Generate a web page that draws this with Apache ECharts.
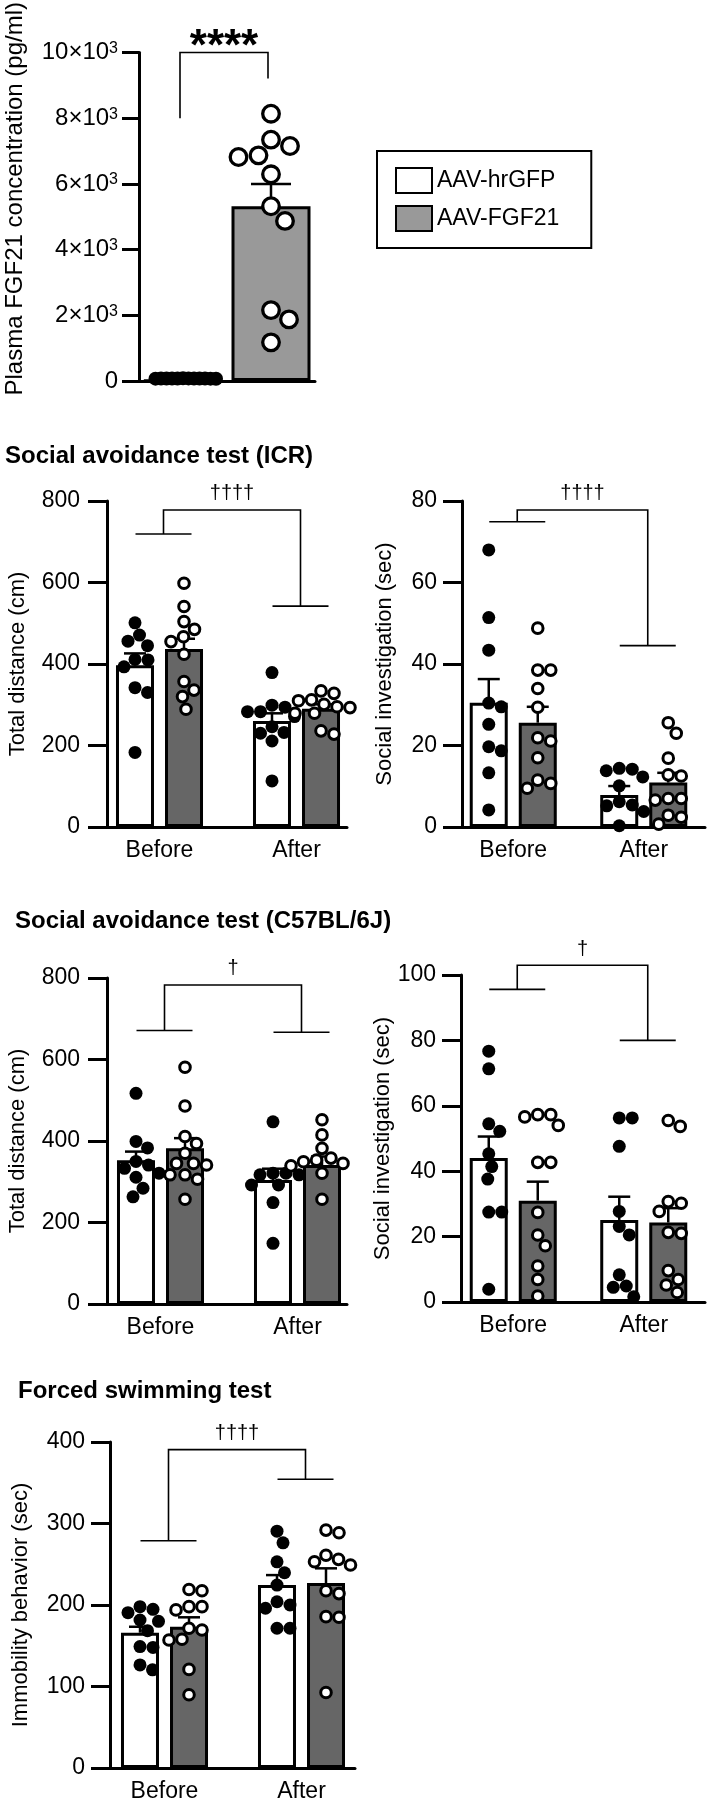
<!DOCTYPE html>
<html><head><meta charset="utf-8">
<script src="https://cdn.jsdelivr.net/npm/echarts@6/dist/echarts.min.js"></script>
<style>html,body{margin:0;padding:0;background:#fff}#c{width:709px;height:1806px}</style>
</head><body><div id="c"></div>
<script>
// ---------------- DATA ----------------
const PHASES = ['Before', 'After'];
const GROUPS = ['AAV-hrGFP', 'AAV-FGF21'];

// Panel 1: Plasma FGF21 concentration (pg/ml)
const fgfMean = [20, 5319];
const fgfSem = [5, 680];
const fgfHrGFP = [78, 72, 75, 70, 80, 74, 76, 71, 79, 73, 77, 74];
const fgfFGF21 = [8137, 7346, 7153, 6869, 6818, 6292, 5319, 4873, 2158, 1875, 1176];
const fgfTicks = [0, 2000, 4000, 6000, 8000, 10000];
const fgfBracket = [8000, 10000, 9210];

// Panel 2: Social avoidance (ICR) – total distance (cm)
const icrDistMeanGFP = [397, 260], icrDistSemGFP = [29, 19];
const icrDistMeanFGF = [437, 290], icrDistSemFGF = [25, 11];
const icrDistGFPBefore = [501, 471, 456, 445, 411, 410, 393, 342, 330, 183];
const icrDistGFPAfter = [379, 299, 294, 283, 283, 271, 246, 232, 230, 211, 113];
const icrDistFGFBefore = [598, 541, 504, 485, 467, 455, 424, 357, 336, 320, 289];
const icrDistFGFAfter = [334, 328, 312, 310, 301, 295, 293, 279, 279, 236, 228];
const icrDistTicks = [0, 200, 400, 600, 800];
const icrDistBracket = [719, 778, 542];

// Panel 3: Social avoidance (ICR) – social investigation (sec)
const icrSocMeanGFP = [30.5, 7.85], icrSocSemGFP = [5.8, 2.2];
const icrSocMeanFGF = [25.6, 10.9], icrSocSemFGF = [3.9, 2.4];
const icrSocGFPBefore = [68, 51.4, 43.4, 30.4, 29.5, 25.2, 19.7, 18.7, 13.3, 4.2];
const icrSocGFPAfter = [14.4, 14.2, 13.8, 12.3, 10.1, 6.2, 5.4, 5.2, 3.8, 0.3];
const icrSocFGFBefore = [48.8, 38.5, 38.5, 34, 29.4, 21.9, 21.1, 17, 11.5, 10.7, 9.5];
const icrSocFGFAfter = [25.6, 23, 16.9, 12.8, 12.5, 7, 7, 6.6, 2.9, 2.4, 0.7];
const icrSocTicks = [0, 20, 40, 60, 80];
const icrSocBracket = [74.9, 77.8, 44.5];

// Panel 4: Social avoidance (C57BL/6J) – total distance (cm)
const c57DistMeanGFP = [353, 304], c57DistSemGFP = [21, 28];
const c57DistMeanFGF = [382, 341], c57DistSemFGF = [25, 21];
const c57DistGFPBefore = [517, 399, 383, 350, 341, 333, 321, 311, 284, 263];
const c57DistGFPAfter = [447, 321, 321, 317, 317, 292, 292, 249, 149];
const c57DistFGFBefore = [581, 486, 411, 394, 370, 345, 345, 341, 317, 317, 306, 257];
const c57DistFGFAfter = [452, 415, 382, 358, 353, 349, 345, 339, 321, 257];
const c57DistTicks = [0, 200, 400, 600, 800];
const c57DistBracket = [671, 783, 667];

// Panel 5: Social avoidance (C57BL/6J) – social investigation (sec)
const c57SocMeanGFP = [44, 25.1], c57SocSemGFP = [6.6, 7.1];
const c57SocMeanFGF = [31, 24.3], c57SocSemFGF = [5.8, 4.4];
const c57SocGFPBefore = [76.7, 71.3, 54.5, 52.2, 45.3, 41.4, 37.6, 27.5, 27.5, 3.9];
const c57SocGFPAfter = [56.3, 56.3, 47.6, 27.7, 23.1, 20.5, 8.3, 4.9, 4.5, 1.6];
const c57SocFGFBefore = [57.3, 57.3, 56.6, 54, 42.7, 42.7, 27.4, 20.5, 17.2, 11, 6.9, 1.8];
const c57SocFGFAfter = [55.5, 53.7, 30.7, 30.2, 27.7, 21.3, 21, 9.6, 6.9, 5.2, 2.9];
const c57SocTicks = [0, 20, 40, 60, 80, 100];
const c57SocBracket = [95.6, 103, 80];

// Panel 6: Forced swimming – immobility (sec)
const fstMeanGFP = [166, 224.5], fstSemGFP = [7.3, 12.2];
const fstMeanFGF = [173.4, 227], fstSemFGF = [11.5, 18];
const fstGFPBefore = [198, 194.7, 190.6, 181.6, 180, 168.5, 149, 148, 126.5, 120.4];
const fstGFPAfter = [290.6, 276.3, 253, 239.6, 224.5, 204, 200, 196, 171.5, 171.5];
const fstFGFBefore = [219, 217.5, 198, 198, 194, 171.5, 169.4, 158, 157, 121, 89.8];
const fstFGFAfter = [291.9, 288.6, 261, 256, 253, 249, 217.5, 214, 185.7, 185, 92.6];
const fstTicks = [0, 100, 200, 300, 400];
const fstBracket = [278.8, 390.7, 354.3];

// ---------------- CHART ----------------
const FONT = '"Liberation Sans", Arial, Helvetica, sans-serif';
const GRAY_DARK = '#666666', GRAY_LIGHT = '#999999';
const grids = [], xAxes = [], yAxes = [], series = [];

function swarm(ys, d, maxHalf) {
  const order = ys.map((_, i) => i).sort((a, b) => ys[a] - ys[b]);
  const placed = [], off = new Array(ys.length).fill(0);
  for (const i of order) {
    let best = 0, bestD = -1;
    for (let k = 0; ; k++) {
      const c = k === 0 ? 0 : (k % 2 ? 1 : -1) * Math.ceil(k / 2) * 0.5;
      if (Math.abs(c) > maxHalf) break;
      let md = Infinity;
      for (const p of placed) { const dd = Math.hypot(c - p[0], ys[i] - p[1]); if (dd < md) md = dd; }
      if (md >= d) { best = c; bestD = md; break; }
      if (md > bestD) { bestD = md; best = c; }
    }
    off[i] = best; placed.push([best, ys[i]]);
  }
  return off;
}

function dotSeries(ai, cat, values, shift, filled, r, lw, d, maxHalf) {
  let offs = null;
  return {
    type: 'custom', xAxisIndex: ai, yAxisIndex: ai, z: 5, silent: true, clip: false,
    data: values.map(v => [cat, v]),
    renderItem(params, api) {
      if (!offs) { offs = swarm(values.map(v => api.coord([cat, v])[1]), d, maxHalf); }
      const p = api.coord([cat, api.value(1)]);
      return {
        type: 'circle',
        shape: { cx: p[0] + shift + offs[params.dataIndex], cy: p[1], r: r },
        style: filled ? { fill: '#000' } : { fill: '#fff', stroke: '#000', lineWidth: lw }
      };
    }
  };
}

function errSeries(ai, means, sems, shift, half) {
  return {
    type: 'custom', xAxisIndex: ai, yAxisIndex: ai, z: 3, silent: true, clip: false,
    data: means.map((m, i) => [i, m, sems[i]]),
    renderItem(params, api) {
      const c = api.value(0), m = api.value(1), s = api.value(2);
      const p = api.coord([c, m]), q = api.coord([c, m + s]);
      const x = p[0] + shift;
      return { type: 'group', children: [
        { type: 'line', shape: { x1: x, y1: p[1], x2: x, y2: q[1] }, style: { stroke: '#000', lineWidth: 2.5 } },
        { type: 'line', shape: { x1: x - half, y1: q[1], x2: x + half, y2: q[1] }, style: { stroke: '#000', lineWidth: 2.5 } }
      ] };
    }
  };
}

function bracketSeries(ai, br, sig, off, half, gap, font) {
  return {
    type: 'custom', xAxisIndex: ai, yAxisIndex: ai, z: 4, silent: true, clip: false,
    data: [[0, br[0], br[1], br[2]]],
    renderItem(params, api) {
      const a = api.coord([0, api.value(1)]), t = api.coord([0, api.value(2)]), b = api.coord([1, api.value(3)]);
      const x0 = a[0] + off, x1 = b[0] + off, yl = a[1], yt = t[1], yr = b[1];
      const st = { stroke: '#000', lineWidth: 1.6, fill: null };
      const ch = [
        { type: 'polyline', shape: { points: [[x0, yl], [x0, yt], [x1, yt], [x1, yr]] }, style: st },
        { type: 'text', style: { text: sig, x: (x0 + x1) / 2, y: yt - gap, align: 'center', verticalAlign: 'middle', font: font, fill: '#000' } }
      ];
      if (half > 0) {
        ch.push({ type: 'line', shape: { x1: x0 - half, y1: yl, x2: x0 + half, y2: yl }, style: st });
        ch.push({ type: 'line', shape: { x1: x1 - half, y1: yr, x2: x1 + half, y2: yr }, style: st });
      }
      return { type: 'group', children: ch };
    }
  };
}

const axisLineStyle = { color: '#000', width: 3 };

// ---- Panel 1 ----
(function () {
  const i = grids.length;
  grids.push({ left: 139, top: 52, width: 176, height: 329 });
  xAxes.push({ gridIndex: i, type: 'category', data: GROUPS, axisLine: { show: true, lineStyle: axisLineStyle }, axisTick: { show: false }, axisLabel: { show: false }, splitLine: { show: false } });
  yAxes.push({ gridIndex: i, type: 'value', min: fgfTicks[0], max: fgfTicks[fgfTicks.length - 1], interval: fgfTicks[1] - fgfTicks[0],
    axisLine: { show: true, lineStyle: axisLineStyle }, axisTick: { show: true, length: 17, lineStyle: axisLineStyle }, splitLine: { show: false },
    axisLabel: { color: '#000', fontSize: 24, fontFamily: FONT, margin: 21,
      formatter: v => v === 0 ? '0' : (v / 1000) + '×10{s|3}',
      rich: { s: { fontSize: 16, fontFamily: FONT, color: '#000', verticalAlign: 'top', lineHeight: 16 } } },
    name: 'Plasma FGF21 concentration (pg/ml)', nameLocation: 'middle', nameGap: 112,
    nameTextStyle: { color: '#000', fontSize: 24, fontFamily: FONT, padding: [0, 0, 0, 36] } });
  series.push({ type: 'bar', name: 'P1', xAxisIndex: i, yAxisIndex: i, barWidth: 79, z: 2, silent: true,
    data: [{ value: fgfMean[0], itemStyle: { color: '#fff' } }, { value: fgfMean[1], itemStyle: { color: GRAY_LIGHT } }],
    itemStyle: { borderColor: '#000', borderWidth: 3 } });
  series.push(errSeries(i, fgfMean, fgfSem, 0, 20));
  series.push(dotSeries(i, 0, fgfHrGFP, 0, true, 7, 0, 5.3, 40));
  series.push(dotSeries(i, 1, fgfFGF21, 0, false, 8.3, 3.3, 20, 40));
  series.push(bracketSeries(i, fgfBracket, '****', -3, 0, 5, 'bold 44px ' + FONT));
})();

function addPanel(P) {
  const fi = grids.length;
  grids.push({ left: P.frame[0], top: P.frame[1], width: P.frame[2], height: P.frame[3] });
  const di = grids.length;
  grids.push({ left: P.dataLeft, top: P.frame[1], width: P.dataWidth, height: P.frame[3] });
  const mn = P.ticks[0], mx = P.ticks[P.ticks.length - 1], iv = P.ticks[1] - P.ticks[0];
  xAxes.push({ gridIndex: fi, type: 'value', min: 0, max: 1, axisLine: { show: true, lineStyle: axisLineStyle }, axisTick: { show: false }, axisLabel: { show: false }, splitLine: { show: false } });
  yAxes.push({ gridIndex: fi, type: 'value', min: mn, max: mx, interval: iv,
    axisLine: { show: true, lineStyle: axisLineStyle }, axisTick: { show: true, length: 19, lineStyle: axisLineStyle }, splitLine: { show: false },
    axisLabel: { color: '#000', fontSize: 23, fontFamily: FONT, margin: P.labelMargin },
    name: P.name, nameLocation: 'middle', nameGap: P.nameGap, nameTextStyle: { color: '#000', fontSize: 22, fontFamily: FONT } });
  xAxes.push({ gridIndex: di, type: 'category', data: PHASES, axisLine: { show: false }, axisTick: { show: false },
    axisLabel: { color: '#000', fontSize: 23, fontFamily: FONT, margin: 12 }, splitLine: { show: false } });
  yAxes.push({ gridIndex: di, type: 'value', min: mn, max: mx, show: false });
  const bw = 38, sh = 24.5;
  series.push({ type: 'bar', name: GROUPS[0], xAxisIndex: di, yAxisIndex: di, data: P.gfpMean, barWidth: bw, barGap: '29%', z: 2, silent: true,
    itemStyle: { color: '#fff', borderColor: '#000', borderWidth: 3 } });
  series.push({ type: 'bar', name: GROUPS[1], xAxisIndex: di, yAxisIndex: di, data: P.fgfMean, barWidth: bw, barGap: '29%', z: 2, silent: true,
    itemStyle: { color: GRAY_DARK, borderColor: '#000', borderWidth: 3 } });
  series.push(errSeries(di, P.gfpMean, P.gfpSem, -sh, 11));
  series.push(errSeries(di, P.fgfMean, P.fgfSem, sh, 11));
  series.push(dotSeries(di, 0, P.gfp[0], -sh, true, 6.5, 0, 13, 36));
  series.push(dotSeries(di, 1, P.gfp[1], -sh, true, 6.5, 0, 13, 36));
  series.push(dotSeries(di, 0, P.fgf[0], sh, false, 5.3, 3, 13, 36));
  series.push(dotSeries(di, 1, P.fgf[1], sh, false, 5.3, 3, 13, 36));
  series.push(bracketSeries(di, P.bracket, P.sig, 4, 28, 16, '20px ' + FONT));
}

addPanel({ frame: [107, 501, 240, 326], dataLeft: 91, dataWidth: 274, ticks: icrDistTicks, labelMargin: 27,
  name: 'Total distance (cm)', nameGap: 78,
  gfpMean: icrDistMeanGFP, gfpSem: icrDistSemGFP, fgfMean: icrDistMeanFGF, fgfSem: icrDistSemFGF,
  gfp: [icrDistGFPBefore, icrDistGFPAfter], fgf: [icrDistFGFBefore, icrDistFGFAfter], bracket: icrDistBracket, sig: '††††' });
addPanel({ frame: [462, 501, 243, 326], dataLeft: 448, dataWidth: 273, ticks: icrSocTicks, labelMargin: 25,
  name: 'Social investigation (sec)', nameGap: 66,
  gfpMean: icrSocMeanGFP, gfpSem: icrSocSemGFP, fgfMean: icrSocMeanFGF, fgfSem: icrSocSemFGF,
  gfp: [icrSocGFPBefore, icrSocGFPAfter], fgf: [icrSocFGFBefore, icrSocFGFAfter], bracket: icrSocBracket, sig: '††††' });
addPanel({ frame: [107, 978, 240, 326], dataLeft: 92, dataWidth: 274, ticks: c57DistTicks, labelMargin: 27,
  name: 'Total distance (cm)', nameGap: 78,
  gfpMean: c57DistMeanGFP, gfpSem: c57DistSemGFP, fgfMean: c57DistMeanFGF, fgfSem: c57DistSemFGF,
  gfp: [c57DistGFPBefore, c57DistGFPAfter], fgf: [c57DistFGFBefore, c57DistFGFAfter], bracket: c57DistBracket, sig: '†' });
addPanel({ frame: [461, 975, 244, 327], dataLeft: 448, dataWidth: 273, ticks: c57SocTicks, labelMargin: 25,
  name: 'Social investigation (sec)', nameGap: 67,
  gfpMean: c57SocMeanGFP, gfpSem: c57SocSemGFP, fgfMean: c57SocMeanFGF, fgfSem: c57SocSemFGF,
  gfp: [c57SocGFPBefore, c57SocGFPAfter], fgf: [c57SocFGFBefore, c57SocFGFAfter], bracket: c57SocBracket, sig: '†' });
addPanel({ frame: [110, 1442, 245, 326], dataLeft: 96, dataWidth: 274, ticks: fstTicks, labelMargin: 25,
  name: 'Immobility behavior (sec)', nameGap: 78,
  gfpMean: fstMeanGFP, gfpSem: fstSemGFP, fgfMean: fstMeanFGF, fgfSem: fstSemFGF,
  gfp: [fstGFPBefore, fstGFPAfter], fgf: [fstFGFBefore, fstFGFAfter], bracket: fstBracket, sig: '††††' });

const titleStyle = { color: '#000', fontSize: 24, fontWeight: 'bold', fontFamily: FONT };
const option = {
  animation: false,
  backgroundColor: '#fff',
  title: [
    { text: 'Social avoidance test (ICR)', left: 5, top: 444, padding: 0, textStyle: titleStyle },
    { text: 'Social avoidance test (C57BL/6J)', left: 15, top: 909, padding: 0, textStyle: titleStyle },
    { text: 'Forced swimming test', left: 18, top: 1379, padding: 0, textStyle: titleStyle }
  ],
  legend: {
    orient: 'vertical', left: 377, top: 151, selectedMode: false,
    padding: [16, 32, 16, 18], itemGap: 11, itemWidth: 36, itemHeight: 25,
    borderColor: '#000', borderWidth: 2, backgroundColor: '#fff',
    icon: 'rect',
    textStyle: { color: '#000', fontSize: 23, fontFamily: FONT },
    data: [
      { name: GROUPS[0], itemStyle: { color: '#fff', borderColor: '#000', borderWidth: 2 } },
      { name: GROUPS[1], itemStyle: { color: GRAY_LIGHT, borderColor: '#000', borderWidth: 2 } }
    ]
  },
  grid: grids, xAxis: xAxes, yAxis: yAxes, series: series
};
const chart = echarts.init(document.getElementById('c'));
chart.setOption(option);
</script></body></html>
